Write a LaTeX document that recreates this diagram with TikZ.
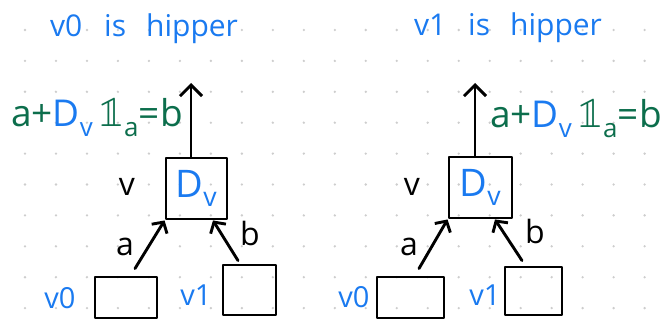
\documentclass[tikz,border=0pt]{standalone}
\usepackage{fontspec}
\usepackage{unicode-math}
\setmainfont{Open Sans}
\usetikzlibrary{arrows.meta}
\definecolor{inkblue}{RGB}{26,122,240}
\definecolor{inkgreen}{RGB}{12,110,76}
\definecolor{dotgray}{RGB}{205,205,205}
\newcommand{\indic}{{\fontsize{44}{46}\selectfont$\mathbb{1}$}}
\begin{document}
\begin{tikzpicture}[x=1pt,y=-1pt,
  box/.style={draw=black, line width=2.9pt, inner sep=0pt, line join=round},
  arr/.style={draw=black, line width=2.9pt, line cap=round, -{Straight Barb[length=8pt,width=18pt]}},
  toparr/.style={draw=black, line width=2.9pt, line cap=round, -{Straight Barb[length=11pt,width=22pt]}},
  title/.style={text=inkblue, anchor=base, inner sep=0pt, font=\fontsize{30}{34}\selectfont},
  lbl/.style={text=black, anchor=base, inner sep=0pt, font=\fontsize{32}{36}\selectfont},
  vlbl/.style={text=inkblue, anchor=base, inner sep=0pt, font=\fontsize{29}{32}\selectfont},
  eqn/.style={text=inkgreen, anchor=base, inner sep=0pt, font=\fontsize{37}{42}\selectfont},
  dvtext/.style={text=inkblue, font=\fontsize{38}{42}\selectfont}
]
\useasboundingbox (0,0) rectangle (665,321);
\foreach \i in {0,...,20} {
  \foreach \j in {0,...,9} {
    \fill[dotgray] (25+30.98*\i, 30+30.9*\j) circle[radius=1.3pt];
  }
}
% ---------- left diagram ----------
\node[title] (Ltitle) at (144,37) {v0\hspace{22pt}is\hspace{20pt}hipper};
\node[box, minimum width=61pt, minimum height=61pt, dvtext] (Ldv) at (196.5,188.5) {D\textsubscript{v}};
\node[box, minimum width=62pt, minimum height=41pt] (L0) at (126,297.5) {};
\node[box, minimum width=53pt, minimum height=50pt] (L1) at (249.5,290) {};
\coordinate (Ltop) at (191,83);
\draw[toparr] (Ldv.north -| Ltop) -- (Ltop);
\node[eqn, anchor=base east] (Leq) at (183,127) {a+\textcolor{inkblue}{D\textsubscript{v}}\,\indic\textsubscript{a}=b};
\draw[arr] ([xshift=9pt,yshift=7pt]L0.north) -- (Ldv.south west);
\draw[arr] ([xshift=-11.5pt,yshift=3pt]L1.north) -- ([xshift=16.5pt]Ldv.south);
\node[lbl] (Lv) at (127,195) {v};
\node[lbl] (La) at (125,255) {a};
\node[lbl] (Lb) at (250,245) {b};
\node[vlbl] (Lv0) at (60,308) {v0};
\node[vlbl] (Lv1) at (196,305) {v1};
% ---------- right diagram ----------
\node[title] (Rtitle) at (508,36) {v1\hspace{22pt}is\hspace{20pt}hipper};
\node[box, minimum width=63pt, minimum height=61pt, dvtext] (Rdv) at (480.5,187.5) {D\textsubscript{v}};
\node[box, minimum width=67pt, minimum height=41pt] (R0) at (410.5,297.5) {};
\node[box, minimum width=57pt, minimum height=48pt] (R1) at (533.5,291) {};
\coordinate (Rtop) at (475,83);
\draw[toparr] (Rdv.north -| Rtop) -- (Rtop);
\node[eqn, anchor=base west] (Req) at (490,128) {a+\textcolor{inkblue}{D\textsubscript{v}}\,\indic\textsubscript{a}=b};
\draw[arr] ([xshift=8.5pt,yshift=7pt]R0.north) -- (Rdv.south west);
\draw[arr] ([xshift=-11.5pt,yshift=5pt]R1.north) -- ([xshift=14.5pt]Rdv.south);
\node[lbl] (Rv) at (412,195) {v};
\node[lbl] (Ra) at (409,255) {a};
\node[lbl] (Rb) at (535,243) {b};
\node[vlbl] (Rv0) at (354,307) {v0};
\node[vlbl] (Rv1) at (485,305) {v1};
\end{tikzpicture}
\end{document}
